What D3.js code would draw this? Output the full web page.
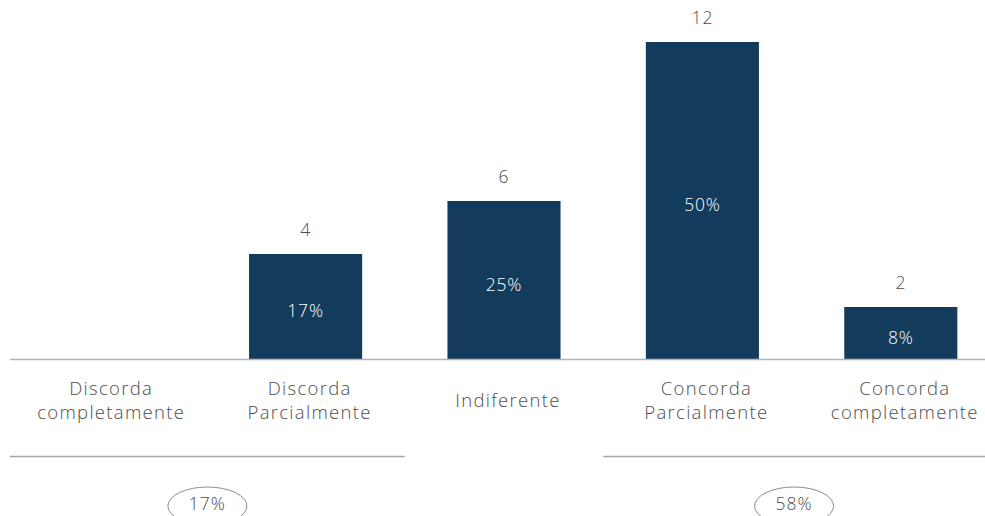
<!DOCTYPE html>
<html lang="pt">
<head>
    <meta charset="UTF-8">
    <title>Concordância</title>
    <style>
        body { margin: 0; background: #fff; }
        .label { font-family: "Open Sans", Lato, sans-serif; font-weight: 300; fill: #4d4d4d; }
        .pct { font-family: "Open Sans", Lato, sans-serif; font-weight: 300; fill: #ffffff; }
    </style>
</head>
<body>
    <div id="chart"></div>

    <script src="https://d3js.org/d3.v7.min.js"></script>
    <script>
        const width = 985;
        const height = 516;

        // data
        const categories = ["Discorda completamente", "Discorda Parcialmente", "Indiferente",
                            "Concorda Parcialmente", "Concorda completamente"];
        const counts = [0, 4, 6, 12, 2];
        const percents = ["", "17%", "25%", "50%", "8%"];
        const groups = [
            { from: 0, to: 1, label: "17%" },
            { from: 3, to: 4, label: "58%" }
        ];

        const baseline = 360;

        const svg = d3.select("#chart")
            .append("svg")
            .attr("width", width)
            .attr("height", height);

        const x = d3.scaleBand()
            .domain(categories)
            .range([8, 1000])
            .paddingInner(0.43)
            .paddingOuter(0.215);

        const y = d3.scaleLinear()
            .domain([0, 12])
            .range([baseline, 42]);

        const data = categories.map((c, i) => ({ cat: c, n: counts[i], pct: percents[i] }));

        // bars
        svg.selectAll(".bar")
            .data(data.filter(d => d.n > 0))
            .enter()
            .append("rect")
            .attr("class", "bar")
            .attr("x", d => x(d.cat))
            .attr("y", d => y(d.n))
            .attr("width", x.bandwidth())
            .attr("height", d => baseline - y(d.n))
            .attr("fill", "#123b5c");

        // baseline
        svg.append("line")
            .attr("x1", 10).attr("x2", width)
            .attr("y1", baseline - 0.5).attr("y2", baseline - 0.5)
            .attr("stroke", "#b4b4b4")
            .attr("stroke-width", 1.5);

        // counts above bars
        svg.selectAll(".count")
            .data(data.filter(d => d.n > 0))
            .enter()
            .append("text")
            .attr("class", "label")
            .attr("x", d => x(d.cat) + x.bandwidth() / 2)
            .attr("y", d => y(d.n) - 18)
            .attr("text-anchor", "middle")
            .attr("font-size", 17.5)
            .attr("letter-spacing", 0.8)
            .text(d => d.n);

        // percents inside bars
        svg.selectAll(".pctl")
            .data(data.filter(d => d.n > 0))
            .enter()
            .append("text")
            .attr("class", "pct")
            .attr("x", d => x(d.cat) + x.bandwidth() / 2)
            .attr("y", d => (y(d.n) + baseline) / 2 + 10)
            .attr("text-anchor", "middle")
            .attr("font-size", 17.5)
            .attr("letter-spacing", 0.8)
            .text(d => d.pct);

        // category labels
        const cats = svg.selectAll(".cat")
            .data(categories)
            .enter()
            .append("text")
            .attr("class", "label")
            .attr("text-anchor", "middle")
            .attr("font-size", 18.5)
            .attr("letter-spacing", 1.3)
            .attr("transform", d => `translate(${x(d) + x.bandwidth() / 2 + 4},0)`);

        cats.each(function(d) {
            const words = d.split(" ");
            const t = d3.select(this);
            if (words.length === 1) {
                t.append("tspan").attr("x", 0).attr("y", 407).text(words[0]);
            } else {
                words.forEach((w, i) => {
                    t.append("tspan").attr("x", 0).attr("y", 395 + i * 24).text(w);
                });
            }
        });

        // group lines and summary ellipses
        const step = x.step();
        groups.forEach(g => {
            const left = g.from === 0 ? 10 : x(categories[g.from]) - (step - x.bandwidth()) / 2;
            const right = g.to === categories.length - 1 ? width : x(categories[g.to]) + x.bandwidth() + (step - x.bandwidth()) / 2;
            const cx = (left + right) / 2;

            svg.append("line")
                .attr("x1", left).attr("x2", right)
                .attr("y1", 456.5).attr("y2", 456.5)
                .attr("stroke", "#a6a6a6")
                .attr("stroke-width", 1.5);

            svg.append("ellipse")
                .attr("cx", cx).attr("cy", 506)
                .attr("rx", 39.5).attr("ry", 19)
                .attr("fill", "none")
                .attr("stroke", "#8c8c8c")
                .attr("stroke-width", 1);

            svg.append("text")
                .attr("class", "label")
                .attr("x", cx)
                .attr("y", 509.5)
                .attr("text-anchor", "middle")
                .attr("font-size", 17.5)
                .attr("letter-spacing", 1)
                .text(g.label);
        });
    </script>
</body>
</html>
